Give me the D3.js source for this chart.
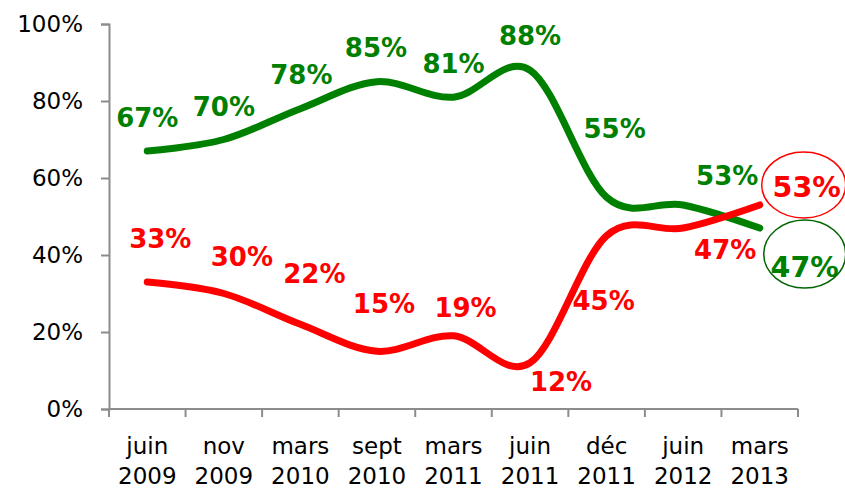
<!DOCTYPE html>
<html>
<head>
<meta charset="utf-8">
<script src="https://cdn.jsdelivr.net/npm/d3@7"></script>
<style>
  body { margin: 0; background: #fff; }
  svg { display: block; }
  text { font-family: "DejaVu Sans", Verdana, sans-serif; }
</style>
</head>
<body>
<div id="vis"></div>
<script>
// data
var categories = ["juin 2009", "nov 2009", "mars 2010", "sept 2010", "mars 2011",
                  "juin 2011", "déc 2011", "juin 2012", "mars 2013"];
var greenValues = [67, 70, 78, 85, 81, 88, 55, 53, 47];
var redValues = [33, 30, 22, 15, 19, 12, 45, 47, 53];
var yTicks = [0, 20, 40, 60, 80, 100];

// label placement (dx, dy of the text baseline from each point)
var greenLabelPos = [[0,-24],[0,-24],[1,-25],[-1,-25],[0,-24],[0,-25],[8,-59],[44,-20],[45,49]];
var redLabelPos = [[13,-34],[18,-28],[14,-41],[7,-38],[12,-19],[31,28],[-3,74],[42,31],[47,-8]];

var w = 845, h = 488;
var plotLeft = 109, plotRight = 798, plotTop = 24, plotBottom = 409;
var green = "#008000", red = "#ff0000", axisCol = "#8c8c8c";

var x = d3.scaleBand().domain(categories).range([plotLeft, plotRight]).padding(0);
var y = d3.scaleLinear().domain([0, 100]).range([plotBottom, plotTop]);
var cx = function(i) { return x(categories[i]) + x.bandwidth() / 2; };

var svg = d3.select("#vis").append("svg")
    .attr("width", w)
    .attr("height", h);

// y axis
var yAxis = d3.axisLeft(y).tickValues(yTicks)
    .tickFormat(function(d) { return d + "%"; })
    .tickSize(8).tickPadding(18);
var gy = svg.append("g")
    .attr("transform", "translate(" + plotLeft + ",0)")
    .call(yAxis);
gy.select(".domain").attr("stroke", axisCol).attr("stroke-width", 2);
gy.selectAll(".tick line").attr("stroke", axisCol).attr("stroke-width", 2);
gy.selectAll(".tick text").attr("fill", "#000").style("font-size", "23px")
    .attr("font-family", "DejaVu Sans");

// x axis line + boundary ticks
svg.append("line")
    .attr("x1", plotLeft).attr("x2", plotRight)
    .attr("y1", plotBottom).attr("y2", plotBottom)
    .attr("stroke", axisCol).attr("stroke-width", 2);
var bounds = categories.map(function(c) { return x(c); }).concat([plotRight]);
svg.selectAll(".xtick").data(bounds).enter().append("line")
    .attr("class", "xtick")
    .attr("x1", function(d) { return d; }).attr("x2", function(d) { return d; })
    .attr("y1", plotBottom).attr("y2", plotBottom + 8)
    .attr("stroke", axisCol).attr("stroke-width", 2);

// x labels, two lines
var xl = svg.selectAll(".xlab").data(categories).enter().append("text")
    .attr("class", "xlab")
    .attr("text-anchor", "middle")
    .attr("fill", "#000")
    .style("font-size", "23px");
xl.append("tspan")
    .attr("x", function(d, i) { return cx(i); })
    .attr("y", plotBottom + 45)
    .text(function(d) { return d.split(" ")[0]; });
xl.append("tspan")
    .attr("x", function(d, i) { return cx(i); })
    .attr("y", plotBottom + 75)
    .text(function(d) { return d.split(" ")[1]; });

// smoothed lines (Excel-like)
var line = d3.line()
    .x(function(d, i) { return cx(i); })
    .y(function(d) { return y(d); })
    .curve(d3.curveCardinal.tension(0));

function drawSeries(values, color, pos) {
  svg.append("path")
      .datum(values)
      .attr("d", line)
      .attr("fill", "none")
      .attr("stroke", color)
      .attr("stroke-width", 7)
      .attr("stroke-linecap", "round");

  var last = values.length - 1;
  svg.selectAll(null).data(values).enter().append("text")
      .attr("x", function(d, i) { return cx(i) + pos[i][0]; })
      .attr("y", function(d, i) { return y(d) + pos[i][1]; })
      .attr("text-anchor", "middle")
      .attr("fill", color)
      .style("font-weight", "bold")
      .style("font-size", function(d, i) { return i == last ? "28.5px" : "26px"; })
      .text(function(d) { return d + "%"; });
}

drawSeries(greenValues, green, greenLabelPos);
drawSeries(redValues, red, redLabelPos);

// circles around the last values
var n = categories.length - 1;
svg.append("ellipse")
    .attr("cx", cx(n) + 45).attr("cy", y(greenValues[n]) + 26)
    .attr("rx", 41).attr("ry", 34)
    .attr("fill", "none").attr("stroke", "#006400").attr("stroke-width", 1.5);
svg.append("ellipse")
    .attr("cx", cx(n) + 44).attr("cy", y(redValues[n]) - 20)
    .attr("rx", 42).attr("ry", 33)
    .attr("fill", "none").attr("stroke", red).attr("stroke-width", 1.5);
</script>
</body>
</html>
